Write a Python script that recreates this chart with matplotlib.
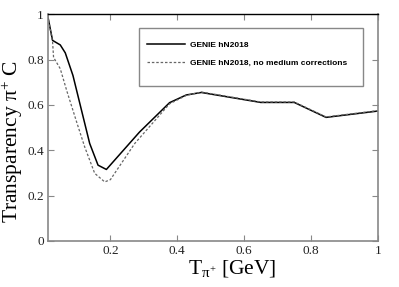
import matplotlib
matplotlib.use("Agg")
import matplotlib.pyplot as plt
from matplotlib.patches import Rectangle

plt.rcParams['mathtext.fontset'] = 'custom'
plt.rcParams['mathtext.rm'] = 'Liberation Serif'
plt.rcParams['mathtext.it'] = 'Liberation Serif:italic'
plt.rcParams['font.family'] = ['Liberation Serif', 'DejaVu Serif']

# Data
t_medium = [0.005, 0.027, 0.05, 0.065, 0.088, 0.138, 0.163, 0.188, 0.287, 0.377, 0.427, 0.472, 0.65, 0.75, 0.845, 1.0]
v_medium = [1.05, 0.885, 0.865, 0.83, 0.73, 0.43, 0.334, 0.315, 0.48, 0.61, 0.644, 0.655, 0.611, 0.611, 0.545, 0.573]

t_nomed = [0.005, 0.027, 0.03, 0.05, 0.07, 0.1, 0.123, 0.153, 0.183, 0.2, 0.273, 0.377, 0.427, 0.472, 0.65, 0.75, 0.845, 1.0]
v_nomed = [1.05, 0.88, 0.81, 0.76, 0.66, 0.52, 0.415, 0.298, 0.26, 0.27, 0.43, 0.605, 0.642, 0.657, 0.613, 0.613, 0.547, 0.575]

labels = ["GENIE hN2018", "GENIE hN2018, no medium corrections"]
xticks = [0.2, 0.4, 0.6, 0.8, 1.0]
xticklabels = ["0.2", "0.4", "0.6", "0.8", "1"]
yticks = [0, 0.2, 0.4, 0.6, 0.8, 1.0]
yticklabels = ["0", "0.2", "0.4", "0.6", "0.8", "1"]

fig = plt.figure(figsize=(3.99, 2.87), dpi=100)
ax = fig.add_axes([0.120, 0.161, 0.827, 0.789])

l1, = ax.plot(t_medium, v_medium, color='black', lw=1.1)
l2, = ax.plot(t_nomed, v_nomed, color='#666666', lw=0.9, linestyle=(0, (2, 1.5)))

ax.set_xlim(0.013, 1.0)
ax.set_ylim(0, 1.0)
ax.set_xticks(xticks)
ax.set_xticklabels(xticklabels, fontfamily='Liberation Serif')
ax.set_yticks(yticks)
ax.set_yticklabels(yticklabels, fontfamily='Liberation Serif')
ax.tick_params(direction='in', length=4, width=0.8, top=True, right=True,
               labelsize=9.5, colors='#888888', labelcolor='#222222', pad=3)
for tk in ax.xaxis.get_major_ticks():
    tk.tick2line.set_color('black')

for s in ['left', 'bottom', 'right']:
    ax.spines[s].set_color('#888888')
    ax.spines[s].set_linewidth(1.2)
ax.spines['top'].set_color('black')
ax.spines['top'].set_linewidth(1.0)

ax.set_ylabel('Transparency π$^{+}$ C', fontsize=15.5)
ax.yaxis.set_label_coords(-0.07, 0.44)
ax.set_xlabel('T$_{\\mathrm{π}^{+}}$ [GeV]', fontsize=15.5)
ax.xaxis.set_label_coords(0.56, -0.075)

# legend frame
ax.add_patch(Rectangle((0.276, 0.683), 0.679, 0.256, transform=ax.transAxes,
                       facecolor='white', edgecolor='#888888', lw=1.0, zorder=3))
leg = ax.legend([l1, l2], labels, loc='center left', bbox_to_anchor=(0.30, 0.826),
                frameon=False, borderpad=0, borderaxespad=0, handlelength=4.6,
                handletextpad=0.6, labelspacing=1.2,
                prop={'family': 'Liberation Sans', 'weight': 'bold', 'size': 6})
leg.set_zorder(4)

fig.savefig('out.png', dpi=100)
